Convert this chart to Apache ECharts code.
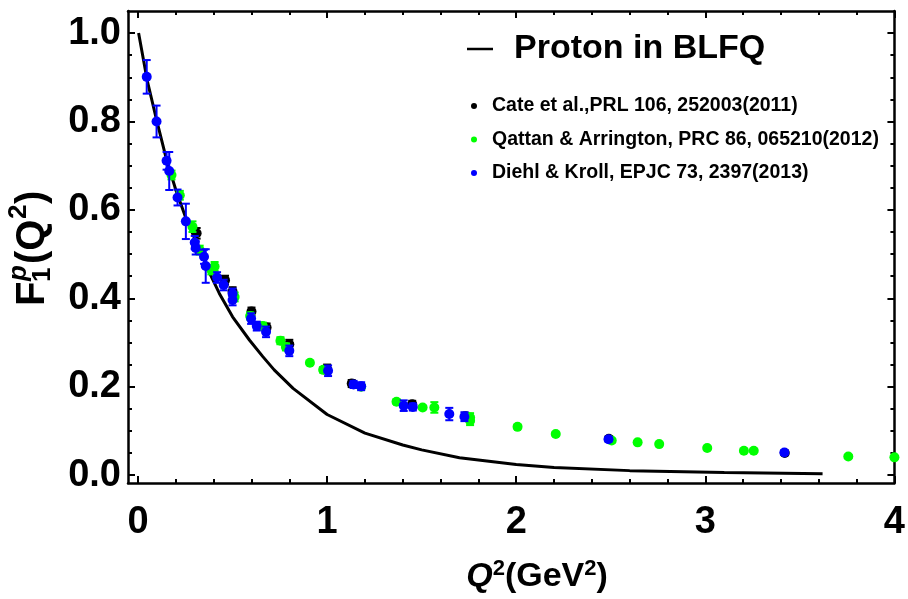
<!DOCTYPE html>
<html>
<head>
<meta charset="utf-8">
<script src="https://cdn.jsdelivr.net/npm/echarts@6/dist/echarts.min.js"></script>
<style>html,body{margin:0;padding:0;background:#fff}#c{width:908px;height:599px}</style>
</head>
<body>
<div id="c"></div>
<script>
// ---- data ----
const curveQ2 = [0.003, 0.05, 0.1, 0.15, 0.2, 0.25, 0.3, 0.38, 0.43, 0.5, 0.59, 0.66, 0.72, 0.82, 1.0, 1.2, 1.4, 1.5, 1.7, 2.0, 2.2, 2.6, 3.1, 3.62];
const curveF1 = [1.0, 0.89, 0.80, 0.715, 0.645, 0.585, 0.535, 0.456, 0.411, 0.358, 0.305, 0.268, 0.238, 0.196, 0.137, 0.095, 0.068, 0.057, 0.039, 0.024, 0.017, 0.010, 0.0055, 0.003];

const cateQ2  = [0.31, 0.46, 0.50, 0.60, 0.68, 0.80, 1.00, 1.13, 1.45, 1.73, 2.49, 3.42];
const cateF1  = [0.547, 0.441, 0.415, 0.370, 0.334, 0.296, 0.240, 0.207, 0.160, 0.133, 0.082, 0.050];
const cateErr = [0.012, 0.010, 0.010, 0.009, 0.009, 0.010, 0.010, 0.008, 0.008, 0.008, 0.006, 0.005];

const qattanQ2  = [0.177, 0.221, 0.288, 0.326, 0.388, 0.405, 0.511, 0.593, 0.66, 0.753, 0.782, 0.909, 0.979, 1.18, 1.367, 1.505, 1.567, 1.756, 1.756, 2.007, 2.209, 2.505, 2.642, 2.756, 3.01, 3.204, 3.256, 3.756, 4.0];
const qattanF1  = [0.679, 0.633, 0.562, 0.509, 0.464, 0.472, 0.403, 0.36, 0.337, 0.304, 0.29, 0.254, 0.238, 0.20, 0.166, 0.153, 0.153, 0.13, 0.123, 0.109, 0.093, 0.078, 0.074, 0.070, 0.061, 0.055, 0.055, 0.042, 0.040];
const qattanErr = [0.010, 0.010, 0.012, 0.010, 0.010, 0.010, 0.010, 0.008, 0.008, 0.008, 0.008, 0.004, 0.006, 0.006, 0.005, 0.004, 0.012, 0.010, 0.010, 0.004, 0.004, 0.004, 0.003, 0.003, 0.003, 0.003, 0.003, 0.003, 0.003];

const diehlQ2  = [0.046, 0.098, 0.151, 0.165, 0.209, 0.253, 0.30, 0.305, 0.349, 0.358, 0.418, 0.453, 0.50, 0.50, 0.598, 0.628, 0.677, 0.80, 1.005, 1.14, 1.18, 1.405, 1.453, 1.646, 1.726, 2.488, 3.418];
const diehlF1  = [0.901, 0.80, 0.711, 0.688, 0.628, 0.574, 0.526, 0.514, 0.494, 0.473, 0.447, 0.43, 0.41, 0.396, 0.354, 0.337, 0.324, 0.281, 0.236, 0.205, 0.201, 0.157, 0.154, 0.138, 0.132, 0.081, 0.051];
const diehlErr = [0.038, 0.036, 0.020, 0.043, 0.018, 0.040, 0.015, 0.015, 0.016, 0.038, 0.012, 0.012, 0.012, 0.012, 0.012, 0.010, 0.012, 0.012, 0.012, 0.008, 0.009, 0.012, 0.008, 0.014, 0.010, 0.005, 0.005];

const xMajorTicks = [0, 1, 2, 3, 4];
const xMinorTicks = [0.2,0.4,0.6,0.8,1.2,1.4,1.6,1.8,2.2,2.4,2.6,2.8,3.2,3.4,3.6,3.8];
const yMajorTicks = [0, 0.2, 0.4, 0.6, 0.8, 1.0];
const yMinorTicks = [0.05,0.1,0.15,0.25,0.3,0.35,0.45,0.5,0.55,0.65,0.7,0.75,0.85,0.9,0.95];

const names = ['Cate et al.,PRL 106, 252003(2011)', 'Qattan & Arrington, PRC 86, 065210(2012)', 'Diehl & Kroll, EPJC 73, 2397(2013)'];
const colors = ['#000000', '#00ff00', '#0000ff'];
// ---------------------------------------

const XMIN = -0.053, XMAX = 4, YMIN = -0.018, YMAX = 1.05;
const FONT = '"Liberation Sans", Arial, sans-serif';

function zip(a, b, c) { return a.map((v, i) => c ? [v, b[i], c[i]] : [v, b[i]]); }

function errSeries(name, color, data, z) {
  return {
    type: 'custom', name: name + ' err', data: data, z: z, silent: true,
    encode: { x: 0, y: 1 },
    renderItem: function (params, api) {
      const x = api.value(0), y = api.value(1), e = api.value(2);
      const t = api.coord([x, y + e]), b = api.coord([x, y - e]);
      const w = 4, st = { stroke: color, lineWidth: 2 };
      return { type: 'group', children: [
        { type: 'line', shape: { x1: t[0], y1: t[1], x2: b[0], y2: b[1] }, style: st },
        { type: 'line', shape: { x1: t[0] - w, y1: t[1], x2: t[0] + w, y2: t[1] }, style: st },
        { type: 'line', shape: { x1: b[0] - w, y1: b[1], x2: b[0] + w, y2: b[1] }, style: st }
      ]};
    }
  };
}
function scat(name, color, data, z) {
  return { type: 'scatter', name: name, data: data, z: z, symbol: 'circle', symbolSize: 10,
    itemStyle: { color: color, opacity: 1 }, emphasis: { disabled: true } };
}

function mkX(pos, ticks, len, labels, line) {
  return { type: 'value', position: pos, min: XMIN, max: XMAX,
    axisLine: { show: line, onZero: false, lineStyle: { color: '#000', width: 2.5 } },
    axisTick: { show: true, inside: true, length: len, customValues: ticks, lineStyle: { color: '#000', width: 2 } },
    axisLabel: labels ? { show: true, customValues: xMajorTicks, margin: 21, color: '#000',
      fontFamily: FONT, fontWeight: 'bold', fontSize: 38, formatter: v => String(v) } : { show: false },
    splitLine: { show: false } };
}
function mkY(pos, ticks, len, labels, line) {
  return { type: 'value', position: pos, min: YMIN, max: YMAX,
    axisLine: { show: line, onZero: false, lineStyle: { color: '#000', width: 2.5 } },
    axisTick: { show: true, inside: true, length: len, customValues: ticks, lineStyle: { color: '#000', width: 2 } },
    axisLabel: labels ? { show: true, customValues: yMajorTicks, margin: 7, color: '#000',
      fontFamily: FONT, fontWeight: 'bold', fontSize: 38, formatter: v => v.toFixed(1) } : { show: false },
    splitLine: { show: false } };
}

const chart = echarts.init(document.getElementById('c'), null, { renderer: 'canvas' });
chart.setOption({
  animation: false,
  backgroundColor: '#fff',
  grid: { left: 128, top: 11, width: 770, height: 472, containLabel: false },
  xAxis: [
    mkX('bottom', xMajorTicks, 7, true, true),
    mkX('bottom', xMinorTicks, 4, false, false),
    mkX('top', xMajorTicks, 7, false, true),
    mkX('top', xMinorTicks, 4, false, false)
  ],
  yAxis: [
    mkY('left', yMajorTicks, 7, true, true),
    mkY('left', yMinorTicks, 4, false, false),
    mkY('right', yMajorTicks, 7, false, true),
    mkY('right', yMinorTicks, 4, false, false)
  ],
  legend: [
    { data: [{ name: 'Proton in BLFQ', icon: 'rect' }], left: 467, top: 32, padding: 0,
      itemWidth: 26, itemHeight: 2.5, selectedMode: false,
      textStyle: { fontFamily: FONT, fontWeight: 'bold', fontSize: 34, color: '#000', padding: [0, 0, 0, 16] } },
    { data: names.map(n => ({ name: n, icon: 'circle' })), orient: 'vertical', left: 471, top: 96, padding: 0,
      itemWidth: 6, itemHeight: 6, itemGap: 13.5, selectedMode: false,
      textStyle: { fontFamily: FONT, fontWeight: 'bold', fontSize: 19.5, color: '#000', padding: [0, 0, 0, 10] } }
  ],
  graphic: [
    { type: 'text', silent: true, x: 537, y: 577,
      style: { text: '{q|Q}{s|2}{n|(GeV}{s|2}{n|)}', align: 'center', verticalAlign: 'middle',
        rich: {
          q: { fontFamily: FONT, fontWeight: 'bold', fontStyle: 'italic', fontSize: 34, fill: '#000' },
          n: { fontFamily: FONT, fontWeight: 'bold', fontSize: 34, fill: '#000' },
          s: { fontFamily: FONT, fontWeight: 'bold', fontSize: 22, fill: '#000', verticalAlign: 'top', padding: [0, 0, 16, 0] }
        } } },
    { type: 'group', x: 33, y: 236, rotation: Math.PI / 2, silent: true, children: [
      { type: 'text', x: -70, y: 0, style: { text: 'F', fontFamily: FONT, fontWeight: 'bold', fontSize: 40, fill: '#000', verticalAlign: 'middle' } },
      { type: 'text', x: -45, y: -14, style: { text: 'p', fontFamily: FONT, fontWeight: 'bold', fontStyle: 'italic', fontSize: 26, fill: '#000', verticalAlign: 'middle' } },
      { type: 'text', x: -46, y: 10, style: { text: '1', fontFamily: FONT, fontWeight: 'bold', fontSize: 26, fill: '#000', verticalAlign: 'middle' } },
      { type: 'text', x: -28, y: 0, style: { text: '(Q', fontFamily: FONT, fontWeight: 'bold', fontSize: 40, fill: '#000', verticalAlign: 'middle' } },
      { type: 'text', x: 17, y: -14, style: { text: '2', fontFamily: FONT, fontWeight: 'bold', fontSize: 26, fill: '#000', verticalAlign: 'middle' } },
      { type: 'text', x: 32, y: 0, style: { text: ')', fontFamily: FONT, fontWeight: 'bold', fontSize: 40, fill: '#000', verticalAlign: 'middle' } }
    ]}
  ],
  series: [
    { type: 'line', name: 'Proton in BLFQ', data: zip(curveQ2, curveF1), z: 1, showSymbol: false, symbol: 'none',
      lineStyle: { color: '#000', width: 3 }, itemStyle: { color: '#000' }, smooth: false, silent: true },
    errSeries(names[0], colors[0], zip(cateQ2, cateF1, cateErr), 2),
    scat(names[0], colors[0], zip(cateQ2, cateF1), 2),
    errSeries(names[1], colors[1], zip(qattanQ2, qattanF1, qattanErr), 3),
    scat(names[1], colors[1], zip(qattanQ2, qattanF1), 3),
    errSeries(names[2], colors[2], zip(diehlQ2, diehlF1, diehlErr), 4),
    scat(names[2], colors[2], zip(diehlQ2, diehlF1), 4)
  ]
});
</script>
</body>
</html>
